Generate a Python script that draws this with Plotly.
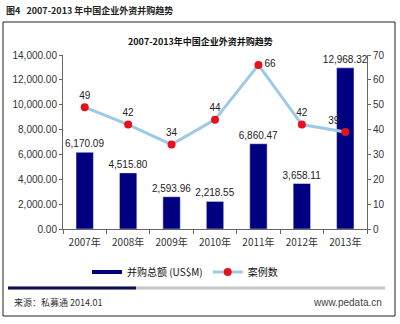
import plotly.graph_objects as go

years = ["2007年", "2008年", "2009年", "2010年", "2011年", "2012年", "2013年"]
amount = [6170.09, 4515.80, 2593.96, 2218.55, 6860.47, 3658.11, 12968.32]
cases = [49, 42, 34, 44, 66, 42, 39]
left_ticks = [0, 2000, 4000, 6000, 8000, 10000, 12000, 14000]
right_ticks = [0, 10, 20, 30, 40, 50, 60, 70]

CJK = "Noto Sans CJK SC"
NUM = "Liberation Sans"

# plot area in px: x 63..367, y 55..229
L, R, T, B = 63, 367, 55, 229
W, H = 400, 324
def px(x):
    return (x - L) / (R - L)
def py(y):
    return (B - y) / (B - T)

case_pos = ["top center", "top center", "top center", "top center", "middle right", "top center", "top left"]

fig = go.Figure()
fig.add_trace(go.Bar(
    x=years, y=amount, name="并购总额 (US$M)", marker_color="#000080",
    width=0.4, text=[f"{v:,.2f}" for v in amount], textposition="outside",
    constraintext="none",
    textfont=dict(family=NUM, size=10, color="#222"), cliponaxis=False,
    showlegend=False,
))
fig.add_trace(go.Scatter(
    x=[None], y=[None], mode="lines", name="并购总额 (US$M)",
    line=dict(color="#000080", width=4), showlegend=True,
))
fig.add_trace(go.Scatter(
    x=years, y=cases, yaxis="y2", mode="lines+markers+text", name="案例数",
    line=dict(color="#9cc9e6", width=3),
    marker=dict(color="#e8101a", size=8),
    text=[str(v) for v in cases], textposition=case_pos,
    textfont=dict(family=NUM, size=10, color="#222"), cliponaxis=False,
))

fig.update_layout(
    width=W, height=H, margin=dict(l=L, r=W - R, t=T, b=H - B),
    paper_bgcolor="white", plot_bgcolor="white",
    bargap=0.6,
    font=dict(family=CJK, size=10, color="#222"),
    xaxis=dict(showline=True, linecolor="#666", linewidth=1, ticks="outside",
               ticklen=4, tickcolor="#666", tickson="boundaries", ticklabelstandoff=4,
               tickfont=dict(family=CJK, size=10, color="#333"), showgrid=False),
    yaxis=dict(range=[0, 14000], tickvals=left_ticks,
               ticktext=[f"{v:,.2f}" for v in left_ticks],
               showline=True, linecolor="#666", linewidth=1, ticks="outside",
               ticklen=3, tickcolor="#666", showgrid=False, zeroline=False,
               tickfont=dict(family=NUM, size=10, color="#333")),
    yaxis2=dict(range=[0, 70], tickvals=right_ticks, overlaying="y", side="right",
                showline=True, linecolor="#666", linewidth=1, ticks="outside",
                ticklen=3, tickcolor="#666", showgrid=False, zeroline=False,
                tickfont=dict(family=NUM, size=10, color="#333")),
    legend=dict(orientation="h", x=px(185), y=py(272), xanchor="center", yanchor="middle",
                font=dict(family=CJK, size=10, color="#111"), itemwidth=30,
                bgcolor="rgba(0,0,0,0)", tracegroupgap=0),
    showlegend=True,
)

shapes = [
    dict(type="rect", xref="paper", yref="paper", x0=px(3), x1=px(395), y0=py(22), y1=py(316),
         line=dict(color="#222", width=1), layer="below"),
    dict(type="line", xref="paper", yref="paper", x0=px(8), x1=px(385), y0=py(288), y1=py(288),
         line=dict(color="#c8c8c8", width=3)),
    dict(type="line", xref="paper", yref="paper", x0=px(8), x1=px(136), y0=py(288), y1=py(288),
         line=dict(color="#101050", width=3)),
]
fig.update_layout(shapes=shapes)

annotations = [
    dict(text="<b>图4   2007-2013 年中国企业外资并购趋势</b>", x=px(4), y=py(10), xref="paper", yref="paper",
         xanchor="left", yanchor="middle", showarrow=False, font=dict(family=CJK, size=9, color="#222")),
    dict(text="<b>2007-2013年中国企业外资并购趋势</b>", x=px(200), y=py(41), xref="paper", yref="paper",
         xanchor="center", yanchor="middle", showarrow=False, font=dict(family=CJK, size=9, color="#111")),
    dict(text="来源：私募通 2014.01", x=px(12), y=py(302), xref="paper", yref="paper",
         xanchor="left", yanchor="middle", showarrow=False, font=dict(family=CJK, size=9, color="#333")),
    dict(text="www.pedata.cn", x=px(384), y=py(302), xref="paper", yref="paper",
         xanchor="right", yanchor="middle", showarrow=False, font=dict(family=NUM, size=10, color="#444")),
]
fig.update_layout(annotations=annotations)

fig.write_html("out.html")
